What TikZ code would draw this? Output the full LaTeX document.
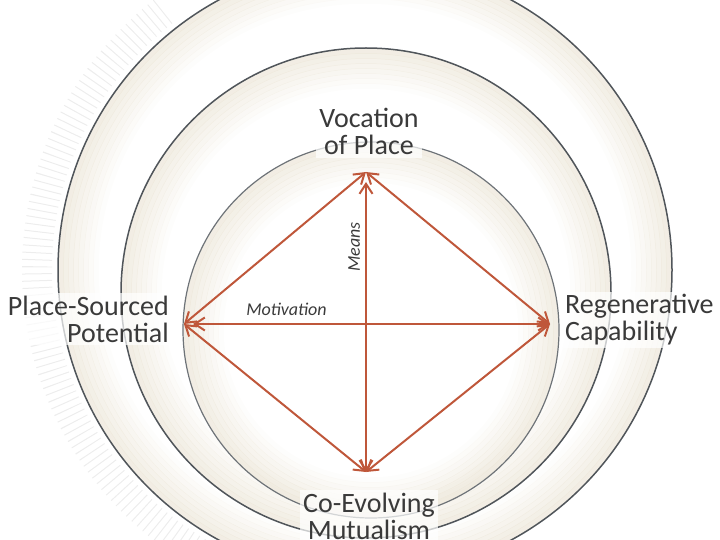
\documentclass[tikz,border=0pt]{standalone}
\usepackage{fontspec}
\setmainfont{Carlito}
\usetikzlibrary{arrows.meta,positioning}
\definecolor{Ink}{HTML}{3A3A3A}
\definecolor{Rim}{HTML}{50555A}
\definecolor{RimLight}{HTML}{6E7378}
\definecolor{Sand}{HTML}{ECE6D8}
\definecolor{Haze}{HTML}{EDEDED}
\definecolor{Rust}{HTML}{BF573A}
\tikzset{rim/.style={draw=Rim,line width=1.5pt},band/.style={draw=Sand,line width=#1},place/.style={font=\fontsize{28}{27}\selectfont,text=Ink,align=center,inner sep=3pt,fill=white,fill opacity=.7,text opacity=1},cue/.style={font=\fontsize{18}{20}\selectfont\itshape,text=Ink,inner sep=0pt},link/.style={draw=Rust,line width=2pt,{Straight Barb[length=10pt,width=13pt]}-{Straight Barb[length=10pt,width=13pt]}}}

\begin{document}
\begin{tikzpicture}[x=1pt,y=-1pt]
  \useasboundingbox (0,0) rectangle (720,540);
  % faint hatching outside the outer ring
  \draw[draw=Haze,line width=30pt,dash pattern=on 1pt off 6pt] (365,270) ++(128:328pt) arc[start angle=128,end angle=240,radius=328pt];
  % sand bands inside each ring, fading inwards
  \foreach \cx/\cy/\r in {365/270/307,366/293/245,371/330/188}{
    \foreach \k in {0,...,7}{
      \draw[band=5.5pt,opacity={.7*(1-\k/8)}] (\cx,\cy) circle[radius=\r pt-3pt-5*\k pt];
    }
  }
  \draw[rim] (365,270) circle[radius=307pt];
  \draw[rim] (366,293) circle[radius=245pt];
  \draw[rim,draw=RimLight,line width=1.2pt] (371,330) circle[radius=188pt];
  % diamond corners
  \coordinate (vtop) at (366,172);
  \coordinate (vleft) at (184,324);
  \coordinate (vright) at (550,324);
  \coordinate (vbot) at (366,472);
  \draw[link] (vleft) -- (vtop);
  \draw[link] (vtop) -- (vright);
  \draw[link] (vright) -- (vbot);
  \draw[link] (vbot) -- (vleft);
  \draw[link,shorten <=9pt] (vleft) -- node[cue,pos=.28,above=7pt]{Motivation} (vright);
  \draw[link,shorten <=10pt] (vtop) -- node[cue,pos=.25,rotate=90,anchor=south,inner sep=5pt]{Means} (vbot);
  % labels
  \node[place,above=14pt of vtop,xshift=3pt] (vocation) {Vocation\\of Place};
  \node[place,align=right,left=12pt of vleft,yshift=5pt] (potential) {Place-Sourced\\Potential};
  \node[place,align=left,right=12pt of vright,yshift=4pt] (capability) {Regenerative\\Capability};
  \node[place,below=18pt of vbot,xshift=3pt] (mutualism) {Co-Evolving\\Mutualism};
\end{tikzpicture}
\end{document}
